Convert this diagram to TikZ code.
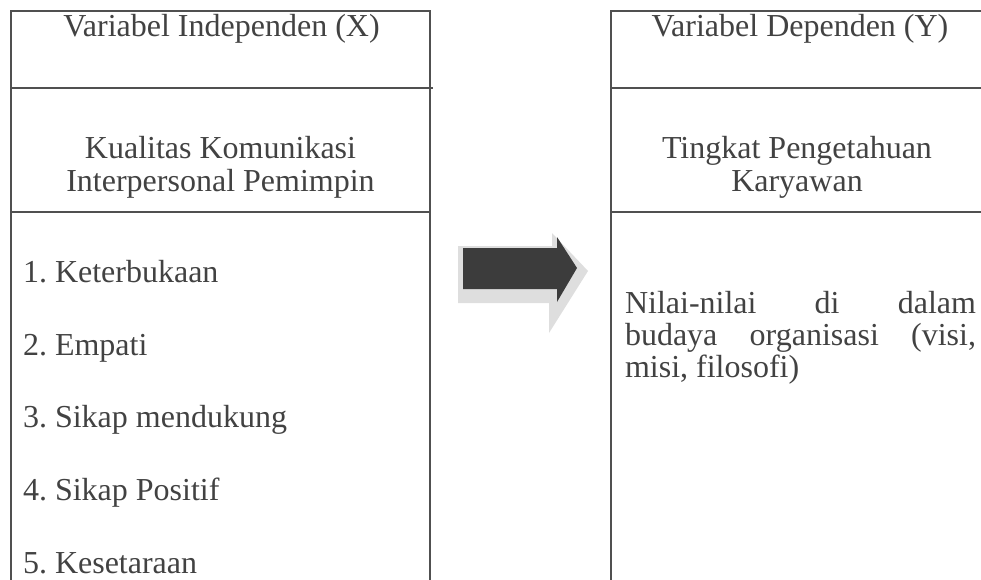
\documentclass[tikz,border=0pt]{standalone}
\usepackage{fontspec}
\setmainfont{Liberation Serif}
\frenchspacing
\definecolor{linegray}{HTML}{505050}
\definecolor{txtgray}{HTML}{424242}
\definecolor{arrowdark}{HTML}{3C3C3C}
\definecolor{arrowlight}{HTML}{DEDEDE}
\begin{document}
\begin{tikzpicture}[x=1pt,y=-1pt,
  boxline/.style={draw=linegray, line width=2.2pt, line join=miter},
  txt/.style={text=txtgray, font=\fontsize{32}{34}\selectfont, inner sep=0pt, outer sep=0pt},
]
\useasboundingbox (0,0) rectangle (981,580);
\begin{scope}
\clip (0,0) rectangle (981,580);
% left box
\draw[boxline] (11,600) -- (11,11) -- (430,11) -- (430,600);
\draw[boxline] (11,88) -- (433,88);
\draw[boxline] (11,212) -- (430,212);
% right box
\draw[boxline] (611,600) -- (611,11) -- (995,11) -- (995,600);
\draw[boxline] (611,88) -- (995,88);
\draw[boxline] (611,212) -- (995,212);
\end{scope}
% arrow (light bevel behind, dark arrow in front)
\fill[arrowlight] (458,246) -- (552,246) -- (552,233) -- (588,271) -- (549,333) -- (549,303) -- (458,303) -- cycle;
\fill[arrowdark] (463,248) -- (557,248) -- (557,237) -- (577,268) -- (557,302) -- (557,289) -- (463,289) -- cycle;
% left texts
\node[txt, anchor=base] (xtitle) at (221.5,37) {Variabel Independen (X)};
\node[txt, anchor=base] (xname1) at (220.5,158) {Kualitas Komunikasi};
\node[txt, anchor=base] (xname2) at (220.5,191) {Interpersonal Pemimpin};
\node[txt, anchor=base west] (x1) at (23,282) {1. Keterbukaan};
\node[txt, anchor=base west] (x2) at (23,355) {2. Empati};
\node[txt, anchor=base west] (x3) at (23,427) {3. Sikap mendukung};
\node[txt, anchor=base west] (x4) at (23,500) {4. Sikap Positif};
\node[txt, anchor=base west] (x5) at (23,573) {5. Kesetaraan};
% right texts
\node[txt, anchor=base] (ytitle) at (800,37) {Variabel Dependen (Y)};
\node[txt, anchor=base] (yname1) at (797,158) {Tingkat Pengetahuan};
\node[txt, anchor=base] (yname2) at (797,191) {Karyawan};
\node[txt, anchor=base west] (y1) at (625,313) {\makebox[351pt][s]{Nilai-nilai di dalam}};
\node[txt, anchor=base west] (y2) at (625,345) {\makebox[351pt][s]{budaya organisasi (visi,}};
\node[txt, anchor=base west] (y3) at (625,377) {misi, filosofi)};
\end{tikzpicture}
\end{document}
